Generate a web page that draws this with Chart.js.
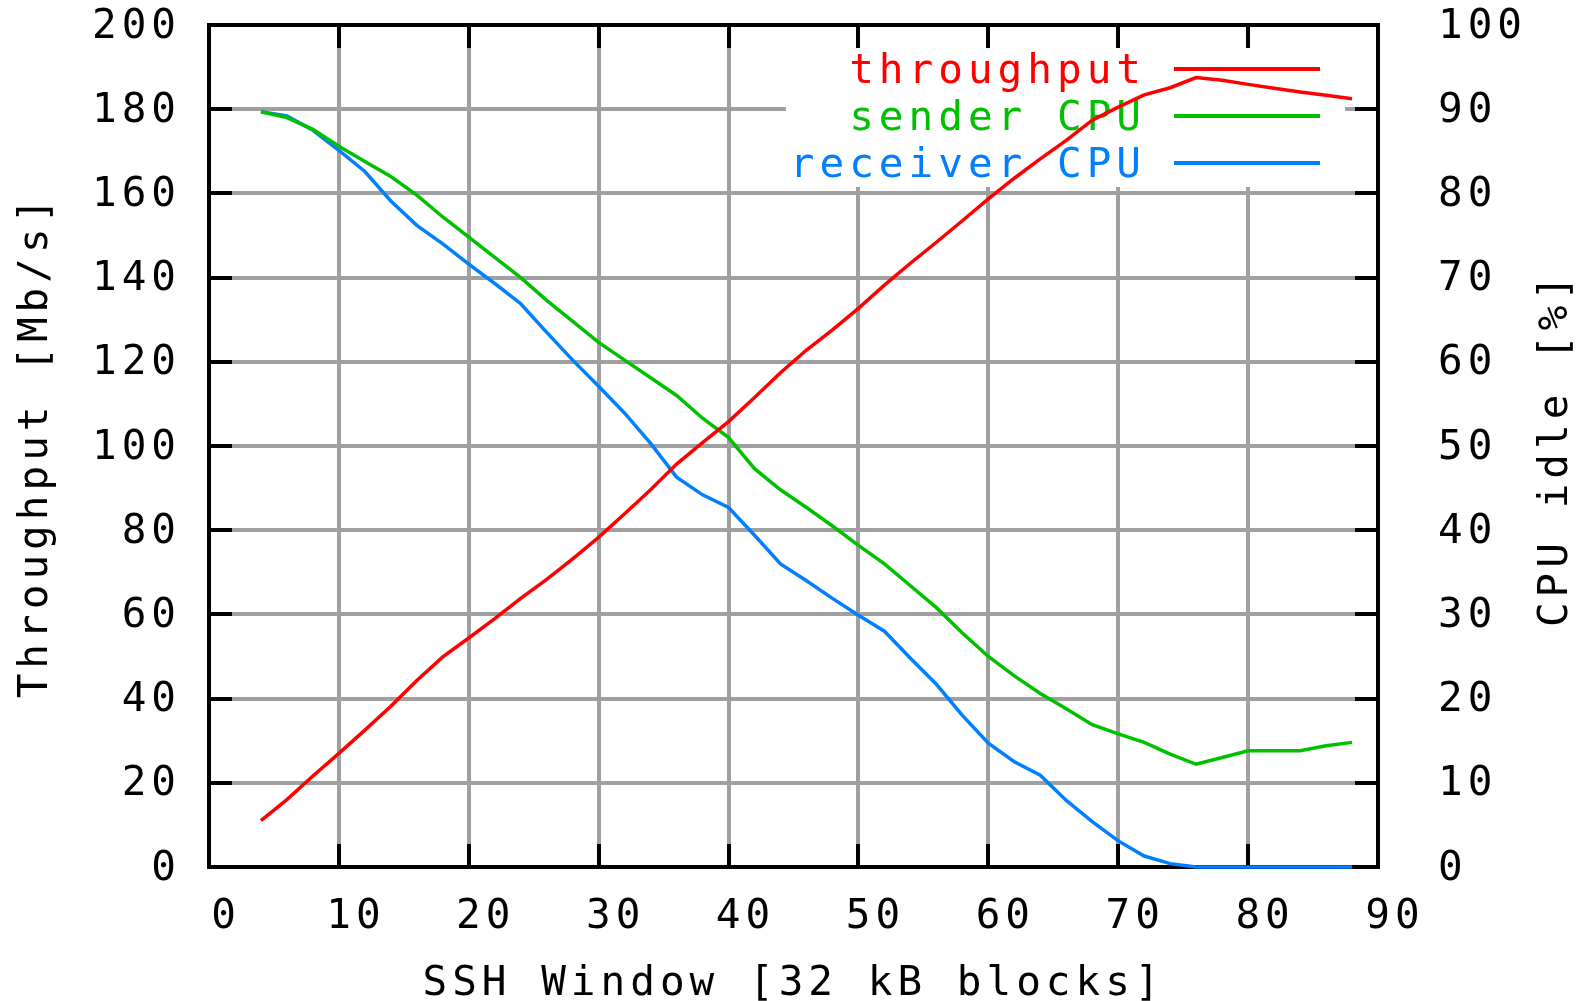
<!DOCTYPE html>
<html><head><meta charset="utf-8">
<script src="https://cdn.jsdelivr.net/npm/chart.js@4/dist/chart.umd.min.js"></script>
<style>html,body{margin:0;padding:0;background:#fff;}canvas{display:block}</style>
</head><body>
<canvas id="c" width="1577" height="1001"></canvas>
<script>
// ---- data ----
const windowBlocks = [4,6,8,10,12,14,16,18,20,22,24,26,28,30,32,34,36,38,40,42,44,46,48,50,52,54,56,58,60,62,64,66,68,70,72,74,76,78,80,82,84,86,88];
const throughput   = [11.0,16.0,21.6,27.0,32.5,38.2,44.3,49.9,54.4,59.0,63.8,68.3,73.2,78.3,83.9,89.6,95.7,100.8,105.8,111.5,117.4,122.8,127.6,132.7,138.2,143.4,148.4,153.5,158.7,163.6,168.2,172.6,177.4,180.5,183.4,185.1,187.5,186.9,185.9,185.0,184.1,183.3,182.5];
const senderCPU    = [89.7,89.0,87.6,85.6,83.8,82.0,79.8,77.2,74.8,72.4,70.0,67.3,64.8,62.3,60.2,58.1,56.0,53.3,51.0,47.3,44.8,42.7,40.5,38.2,36.0,33.4,30.8,27.8,25.0,22.7,20.6,18.8,16.9,15.8,14.8,13.4,12.2,13.0,13.8,13.8,13.8,14.4,14.8];
const receiverCPU  = [89.7,89.2,87.5,85.1,82.6,79.1,76.2,74.0,71.6,69.3,66.9,63.5,60.2,57.1,53.9,50.3,46.3,44.2,42.7,39.4,36.0,34.0,31.9,29.9,28.0,24.8,21.7,18.0,14.7,12.5,10.9,7.9,5.4,3.1,1.3,0.4,0,0,0,0,0,0,0];
const seriesNames  = ['throughput','sender CPU','receiver CPU'];
const seriesColors = ['#ff0000','#00c000','#0080ff'];
const xTickValues  = [0,10,20,30,40,50,60,70,80,90];
const yTickValues  = [0,20,40,60,80,100,120,140,160,180,200];
const y2TickValues = [0,10,20,30,40,50,60,70,80,90,100];
const xTitle  = 'SSH Window [32 kB blocks]';
const yTitle  = 'Throughput [Mb/s]';
const y2Title = 'CPU idle [%]';

const FAM = '"DejaVu Sans Mono", monospace';
const FS = 41;
const LS = '5px';
const pts = (ys) => windowBlocks.map((x, i) => ({x, y: ys[i]}));
const noPad = s => { s.paddingTop = 0; s.paddingBottom = 0; s.paddingLeft = 0; s.paddingRight = 0; };

const framePlugin = {
  id: 'frame',
  beforeUpdate(c) { c.ctx.letterSpacing = LS; },
  beforeLayout(c) { c.ctx.letterSpacing = LS; },
  beforeDraw(c) { c.ctx.letterSpacing = LS; },
  beforeDatasetsDraw(c) {
    const {ctx, chartArea: a, scales} = c;
    ctx.save();
    // key box (white, no border)
    ctx.fillStyle = '#fff';
    ctx.fillRect(a.left + 577, a.top, 559, 162);
    // key entries
    ctx.font = FS + 'px ' + FAM;
    ctx.letterSpacing = LS;
    ctx.textAlign = 'right';
    ctx.textBaseline = 'alphabetic';
    const rows = [69, 116, 163];
    seriesNames.forEach((n, i) => {
      ctx.fillStyle = seriesColors[i];
      ctx.fillText(n, 1146, rows[i] + 14);
      ctx.strokeStyle = seriesColors[i];
      ctx.lineWidth = 4;
      ctx.beginPath();
      ctx.moveTo(1174, rows[i]); ctx.lineTo(1320, rows[i]);
      ctx.stroke();
    });
    // inward tick marks
    ctx.strokeStyle = '#000';
    ctx.lineWidth = 4;
    ctx.beginPath();
    const L = 23;
    scales.y.ticks.forEach(t => { const p = Math.round(scales.y.getPixelForValue(t.value)); ctx.moveTo(a.left, p); ctx.lineTo(a.left + L, p); });
    scales.y2.ticks.forEach(t => { const p = Math.round(scales.y2.getPixelForValue(t.value)); ctx.moveTo(a.right, p); ctx.lineTo(a.right - L, p); });
    scales.x.ticks.forEach(t => { const p = Math.round(scales.x.getPixelForValue(t.value));
      ctx.moveTo(p, a.bottom); ctx.lineTo(p, a.bottom - L);
      ctx.moveTo(p, a.top); ctx.lineTo(p, a.top + L); });
    ctx.stroke();
    ctx.strokeRect(a.left, a.top, a.right - a.left, a.bottom - a.top);
    ctx.restore();
  },
  afterDraw(c) {
    const ctx = c.ctx;
    ctx.save();
    ctx.font = FS + 'px ' + FAM;
    ctx.letterSpacing = LS;
    ctx.fillStyle = '#000';
    ctx.textAlign = 'center';
    ctx.textBaseline = 'middle';
    ctx.translate(1556, 449);
    ctx.rotate(-Math.PI / 2);
    ctx.fillText(y2Title, 0, 0);
    ctx.restore();
  }
};

const tickFont = {family: FAM, size: FS};
new Chart(document.getElementById('c'), {
  type: 'line',
  data: {
    datasets: [
      {label: seriesNames[0], data: pts(throughput),  borderColor: seriesColors[0], yAxisID: 'y'},
      {label: seriesNames[1], data: pts(senderCPU),   borderColor: seriesColors[1], yAxisID: 'y2'},
      {label: seriesNames[2], data: pts(receiverCPU), borderColor: seriesColors[2], yAxisID: 'y2'}
    ].map(d => Object.assign(d, {borderWidth: 3.5, pointRadius: 0, tension: 0, fill: false, clip: false}))
  },
  options: {
    responsive: false,
    animation: false,
    devicePixelRatio: 1,
    layout: {padding: {top: 25, left: 0, right: 0, bottom: 0}},
    plugins: {legend: {display: false}, tooltip: {enabled: false}},
    scales: {
      x: {
        type: 'linear', min: 0, max: 90,
        afterBuildTicks: s => { s.ticks = xTickValues.map(v => ({value: v})); },
        afterFit: s => { s.height = 134; noPad(s); },
        grid: {color: '#a0a0a0', lineWidth: 4, drawTicks: false},
        border: {display: false},
        ticks: {font: tickFont, color: '#000', padding: 26, labelOffset: 17, autoSkip: false, maxRotation: 0},
        title: {display: true, text: xTitle, color: '#000', font: {family: FAM, size: FS, lineHeight: 0.8}, padding: {top: 0, bottom: 0}}
      },
      y: {
        type: 'linear', position: 'left', min: 0, max: 200,
        afterBuildTicks: s => { s.ticks = yTickValues.map(v => ({value: v})); },
        afterFit: s => { s.width = 209; noPad(s); },
        grid: {color: '#a0a0a0', lineWidth: 4, drawTicks: false},
        border: {display: false},
        ticks: {font: tickFont, color: '#000', padding: 28, labelOffset: 2, autoSkip: false},
        title: {display: true, text: yTitle, color: '#000', font: {family: FAM, size: FS, lineHeight: 1.2}, padding: {top: 12, bottom: 0}}
      },
      y2: {
        type: 'linear', position: 'right', min: 0, max: 100,
        afterBuildTicks: s => { s.ticks = y2TickValues.map(v => ({value: v})); },
        afterFit: s => { s.width = 199; noPad(s); },
        grid: {display: false, drawTicks: false},
        border: {display: false},
        ticks: {font: tickFont, color: '#000', padding: 60, labelOffset: 2, autoSkip: false}
      }
    }
  },
  plugins: [framePlugin]
});
</script>
</body></html>
